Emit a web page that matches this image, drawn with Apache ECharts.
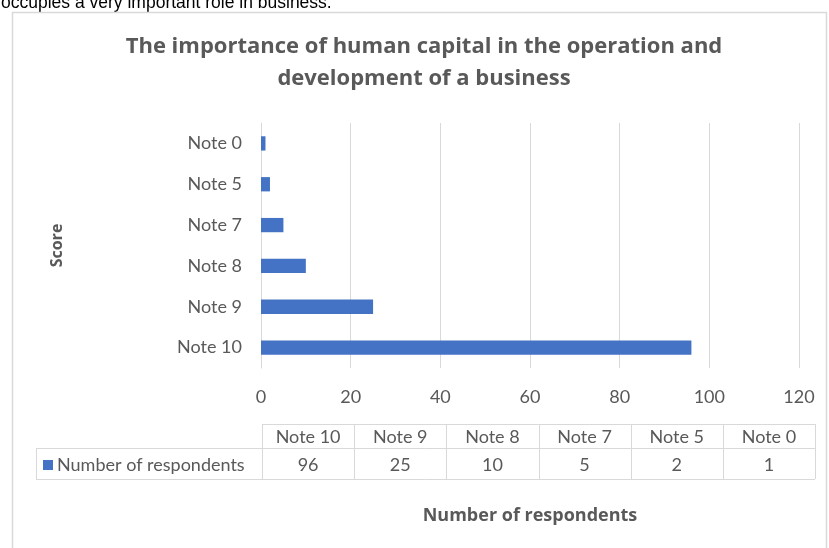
<!DOCTYPE html>
<html><head><meta charset="utf-8">
<script src="https://cdn.jsdelivr.net/npm/echarts@6/dist/echarts.min.js"></script>
<style>html,body{margin:0;padding:0;background:#fff}#c{width:829px;height:548px}</style>
</head><body><div id="c"></div>
<script>
const categories = ['Note 10','Note 9','Note 8','Note 7','Note 5','Note 0'];
const respondents = [96, 25, 10, 5, 2, 1];
const seriesName = 'Number of respondents';
const xTicks = [0, 20, 40, 60, 80, 100, 120];
const titleLines = ['The importance of human capital in the operation and', 'development of a business'];
const topText = 'occupies a very important role in business.';

const FONT = 'Lato, "Open Sans", sans-serif';
const BFONT = '"Open Sans", Lato, sans-serif';
const GRAY = '#595959';
const chart = echarts.init(document.getElementById('c'));
const option = {
  animation: false,
  backgroundColor: '#fff',
  grid: {left: 261, right: 30, top: 123, bottom: 180},
  xAxis: {
    type: 'value', min: xTicks[0], max: xTicks[xTicks.length-1], interval: 20,
    axisLine: {show: false}, axisTick: {show: false},
    splitLine: {lineStyle: {color: '#d9d9d9', width: 1}},
    axisLabel: {color: GRAY, fontFamily: FONT, fontSize: 18, margin: 20},
    name: seriesName, nameLocation: 'middle', nameGap: 139,
    nameTextStyle: {fontFamily: BFONT, fontSize: 18, fontWeight: 'bold', color: GRAY}
  },
  yAxis: {
    type: 'category', data: categories,
    axisLine: {lineStyle: {color: '#d9d9d9'}}, axisTick: {show: false},
    axisLabel: {color: GRAY, fontFamily: FONT, fontSize: 18, margin: 19},
    name: 'Score', nameLocation: 'middle', nameGap: 196, nameRotate: 90,
    nameTextStyle: {fontFamily: BFONT, fontSize: 16, fontWeight: 'bold', color: GRAY}
  },
  series: [{
    type: 'bar', name: seriesName, data: respondents,
    itemStyle: {color: '#4472C4'}, barCategoryGap: '65%'
  }]
};
chart.setOption(option);

const g = [];
g.push({type: 'text', left: 1, top: -6, style: {text: topText, font: '17.5px "Liberation Sans", Arial', fill: '#000'}});
g.push({type: 'rect', shape: {x: 12.5, y: 12.5, width: 814, height: 545}, style: {fill: 'none', stroke: '#d9d9d9', lineWidth: 1.5}, silent: true});
g.push({type: 'rect', shape: {x: 0, y: 0, width: 829, height: 11}, style: {fill: 'rgba(0,0,0,0)'}, silent: true});
g.push({type: 'text', x: 424, y: 31, style: {text: titleLines.join('\n'), align: 'center', font: 'bold 22px ' + BFONT, fill: GRAY, lineHeight: 32}});

// data table built from the same arrays
const rowTop = 424, rowMid = 448, rowBot = 479, tableLeft = 36, colStart = 262, colEnd = 815;
const colW = (colEnd - colStart) / categories.length;
const xs = categories.map((_, i) => colStart + i * colW).concat([colEnd]);
const lineStyle = {stroke: '#d9d9d9', lineWidth: 1};
const L = (x1, y1, x2, y2) => g.push({type: 'line', shape: {x1, y1, x2, y2}, style: lineStyle, silent: true});
L(colStart, rowTop + .5, colEnd, rowTop + .5);
L(tableLeft, rowMid + .5, colEnd, rowMid + .5);
L(tableLeft, rowBot + .5, colEnd, rowBot + .5);
L(tableLeft + .5, rowMid, tableLeft + .5, rowBot);
xs.forEach(x => L(Math.round(x) + .5, rowTop, Math.round(x) + .5, rowBot));
categories.forEach((c, i) => {
  const cx = (xs[i] + xs[i+1]) / 2;
  g.push({type: 'text', x: cx, y: 437, style: {text: c, align: 'center', verticalAlign: 'middle', font: '18px ' + FONT, fill: GRAY}});
  g.push({type: 'text', x: cx, y: 465, style: {text: String(respondents[i]), align: 'center', verticalAlign: 'middle', font: '18px ' + FONT, fill: GRAY}});
});
g.push({type: 'rect', shape: {x: 43, y: 460, width: 10, height: 10}, style: {fill: '#4472C4'}});
g.push({type: 'text', x: 57, y: 465, style: {text: seriesName, verticalAlign: 'middle', font: '18px ' + FONT, fill: GRAY}});
chart.setOption({graphic: g});
</script></body></html>
